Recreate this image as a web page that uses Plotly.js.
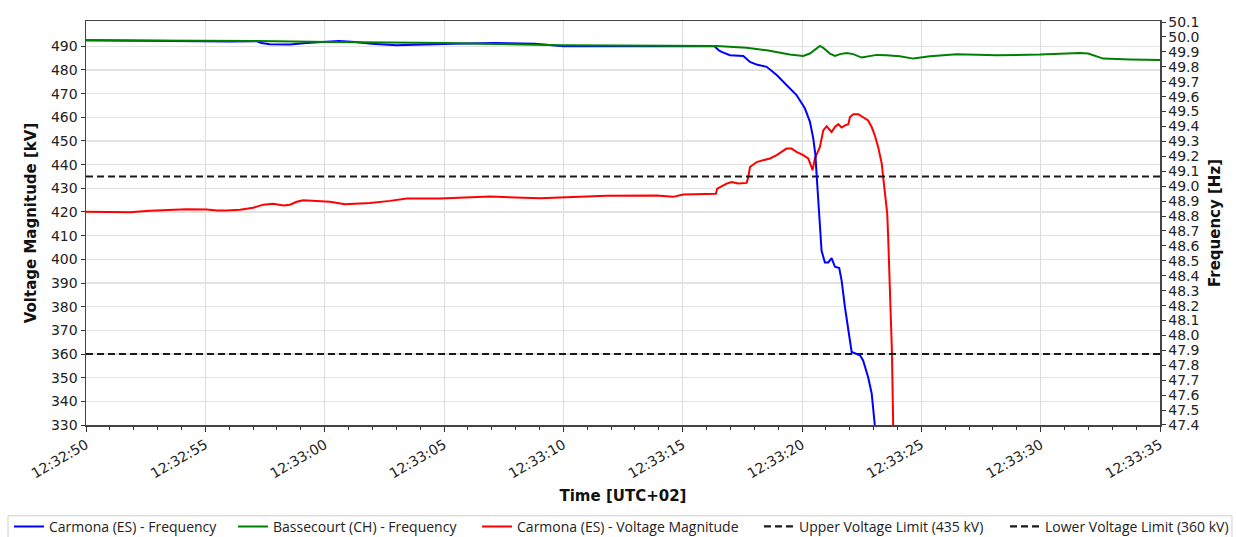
<!DOCTYPE html>
<html><head><meta charset="utf-8">
<script src="https://cdn.plot.ly/plotly-3.0.1.min.js"></script>
<style>html,body{margin:0;padding:0;background:#fff}#chart{width:1236px;height:537px}</style>
</head><body><div id="chart"></div>
<script>
// Time offsets in seconds after 12:32:50 (UTC+02)
const carmonaFreqT = [0, 1.84, 3.94, 6.03, 7.16, 7.35, 7.70, 8.55, 9.23, 9.92, 10.60, 11.28, 11.97, 13.0, 14.02, 15.39, 17.09, 17.96, 18.81, 20.0, 22.23, 24.79, 26.33, 26.51, 26.63, 26.98, 27.54, 27.82, 28.10, 28.52, 28.94, 29.35, 29.77, 30.12, 30.33, 30.47, 30.56, 30.63, 30.70, 30.76, 30.82, 30.96, 31.10, 31.24, 31.38, 31.56, 31.66, 31.80, 31.94, 32.08, 32.43, 32.56, 32.77, 32.92, 33.05];
const carmonaFreqHz = [49.978, 49.975, 49.968, 49.969, 49.971, 49.96, 49.951, 49.949, 49.96, 49.969, 49.973, 49.967, 49.955, 49.945, 49.951, 49.955, 49.96, 49.96, 49.955, 49.938, 49.938, 49.938, 49.938, 49.911, 49.90, 49.878, 49.873, 49.833, 49.815, 49.80, 49.745, 49.678, 49.611, 49.522, 49.433, 49.322, 49.211, 49.033, 48.855, 48.70, 48.567, 48.489, 48.489, 48.518, 48.46, 48.451, 48.367, 48.189, 48.033, 47.889, 47.867, 47.833, 47.722, 47.611, 47.40];

const bassecourtFreqT = [0, 2.68, 7.16, 10.26, 15.04, 19.98, 24.88, 26.42, 27.68, 28.52, 29.49, 30.05, 30.33, 30.61, 30.75, 30.89, 31.17, 31.38, 31.59, 31.87, 32.15, 32.50, 32.71, 33.13, 33.54, 34.10, 34.66, 35.36, 36.48, 38.15, 39.97, 41.64, 41.99, 42.62, 43.74, 45.0];
const bassecourtFreqHz = [49.978, 49.977, 49.973, 49.967, 49.96, 49.945, 49.94, 49.94, 49.927, 49.911, 49.882, 49.873, 49.889, 49.927, 49.94, 49.927, 49.889, 49.873, 49.885, 49.893, 49.885, 49.862, 49.867, 49.88, 49.878, 49.871, 49.855, 49.871, 49.885, 49.878, 49.882, 49.893, 49.889, 49.855, 49.849, 49.845];

const carmonaVoltT = [0, 1.01, 1.84, 2.68, 3.38, 4.22, 5.06, 5.48, 5.89, 6.45, 7.01, 7.43, 7.85, 8.27, 8.55, 8.83, 9.10, 10.22, 10.85, 11.90, 12.74, 13.44, 14.83, 16.93, 19.02, 19.72, 21.81, 23.91, 24.60, 25.02, 26.39, 26.45, 26.84, 27.05, 27.33, 27.68, 27.75, 27.82, 28.10, 28.37, 28.66, 28.94, 29.14, 29.35, 29.56, 29.77, 30.05, 30.26, 30.40, 30.44, 30.54, 30.75, 30.89, 31.03, 31.24, 31.38, 31.52, 31.66, 31.80, 31.94, 32.01, 32.15, 32.36, 32.56, 32.77, 32.92, 33.05, 33.19, 33.34, 33.40, 33.47, 33.53, 33.57, 33.61, 33.68, 33.72, 33.77, 33.80, 33.82];
const carmonaVoltKV = [420.1, 420.1, 419.9, 420.5, 420.8, 421.2, 421.05, 420.6, 420.6, 421.0, 421.8, 423.1, 423.5, 422.7, 423.1, 424.3, 425.0, 424.3, 423.3, 423.8, 424.7, 425.7, 425.7, 426.5, 425.8, 426.1, 426.9, 427.0, 426.4, 427.4, 427.7, 429.9, 432.0, 432.7, 432.0, 432.3, 434.8, 439.0, 441.1, 441.9, 442.6, 444.0, 445.4, 446.8, 446.8, 445.4, 444.0, 442.6, 439.0, 437.6, 442.6, 447.5, 454.5, 456.2, 453.8, 455.9, 457.1, 455.7, 456.6, 457.1, 460.1, 461.3, 461.3, 460.1, 458.7, 455.9, 452.4, 447.5, 440.5, 434.8, 429.2, 422.9, 419.4, 409.5, 391.2, 377.2, 360.3, 342.0, 330.0];

const upperLimitKV = 435;
const lowerLimitKV = 360;
const timeSpan = [0, 45];
const voltageTicks = [330, 340, 350, 360, 370, 380, 390, 400, 410, 420, 430, 440, 450, 460, 470, 480, 490];
const seriesNames = ['Carmona (ES) - Frequency', 'Bassecourt (CH) - Frequency', 'Carmona (ES) - Voltage Magnitude', 'Upper Voltage Limit (435 kV)', 'Lower Voltage Limit (360 kV)'];

const base = Date.UTC(2025, 3, 28, 12, 32, 50);
const fmt = ms => new Date(ms).toISOString().replace('T', ' ').replace('Z', '');
const toX = arr => arr.map(s => fmt(base + s * 1000));

const tickFont = {family: 'DejaVu Sans', size: 14, color: '#222'};
const titleFont = {family: 'DejaVu Sans', size: 15, color: '#111', weight: 'bold'};
const axisLine = '#444';

const traces = [
  {x: toX(carmonaVoltT), y: carmonaVoltKV, yaxis: 'y', mode: 'lines', name: seriesNames[2], line: {color: '#ff0000', width: 2}, legend: 'legend3'},
  {x: toX(timeSpan), y: [upperLimitKV, upperLimitKV], yaxis: 'y', mode: 'lines', name: seriesNames[3], line: {color: '#1a1a1a', width: 2.2, dash: '7px,4px'}, legend: 'legend4'},
  {x: toX(timeSpan), y: [lowerLimitKV, lowerLimitKV], yaxis: 'y', mode: 'lines', name: seriesNames[4], line: {color: '#1a1a1a', width: 2.2, dash: '7px,4px'}, legend: 'legend5'},
  {x: toX(carmonaFreqT), y: carmonaFreqHz, yaxis: 'y2', mode: 'lines', name: seriesNames[0], line: {color: '#0000ff', width: 2}, legend: 'legend'},
  {x: toX(bassecourtFreqT), y: bassecourtFreqHz, yaxis: 'y2', mode: 'lines', name: seriesNames[1], line: {color: '#008000', width: 2}, legend: 'legend2'}
];

const legFont = {family: 'Open Sans', size: 14, color: '#222'};
const mkLeg = x => ({x: x, xanchor: 'left', y: -0.252, yanchor: 'middle', orientation: 'h', bgcolor: 'rgba(0,0,0,0)', borderwidth: 0, font: legFont});

const layout = {
  width: 1236, height: 537,
  margin: {l: 86, r: 76, t: 21, b: 112, autoexpand: false},
  paper_bgcolor: '#fff', plot_bgcolor: '#fff',
  showlegend: true,
  xaxis: {
    type: 'date', range: [fmt(base + timeSpan[0] * 1000), fmt(base + timeSpan[1] * 1000)],
    tickformat: '%H:%M:%S', tick0: fmt(base), dtick: 5000, tickangle: -30,
    ticks: 'outside', ticklen: 5, tickcolor: '#333', tickwidth: 1,
    minor: {dtick: 1000, ticks: 'outside', ticklen: 3, tickcolor: '#333', showgrid: false},
    showgrid: true, gridcolor: '#dcdcdc', gridwidth: 1,
    showline: true, linecolor: axisLine, linewidth: 1.5, mirror: true, zeroline: false,
    tickfont: tickFont, automargin: false,
    title: {text: 'Time [UTC+02]', font: titleFont, standoff: 10}
  },
  yaxis: {
    range: [330, 500.7], tickvals: voltageTicks, ticktext: voltageTicks.map(String),
    ticks: 'outside', ticklen: 4, tickcolor: '#333',
    showgrid: true, gridcolor: '#e2e2e2', gridwidth: 1.5,
    showline: true, linecolor: axisLine, linewidth: 1.5, zeroline: false,
    tickfont: tickFont, automargin: false,
    title: {text: 'Voltage Magnitude [kV]', font: titleFont, standoff: 10}
  },
  yaxis2: {
    overlaying: 'y', side: 'right', range: [47.3999, 50.107], tick0: 47.4, dtick: 0.1, tickformat: '.1f',
    ticks: 'outside', ticklen: 4, tickcolor: '#333',
    showgrid: false, showline: true, linecolor: axisLine, linewidth: 1.5, zeroline: false,
    tickfont: tickFont, automargin: false,
    title: {text: 'Frequency [Hz]', font: titleFont, standoff: 11}
  },
  legend: mkLeg(-0.0717),
  legend2: mkLeg(0.1369),
  legend3: mkLeg(0.3641),
  legend4: mkLeg(0.6266),
  legend5: mkLeg(0.8557),
  shapes: [{type: 'rect', xref: 'paper', yref: 'paper', x0: -0.0726, x1: 1.067, y0: -0.2247, y1: -0.31, line: {color: '#cfcfcf', width: 1}, fillcolor: 'rgba(0,0,0,0)', layer: 'above'}]
};

Plotly.newPlot('chart', traces, layout, {displayModeBar: false, staticPlot: true});
</script></body></html>
